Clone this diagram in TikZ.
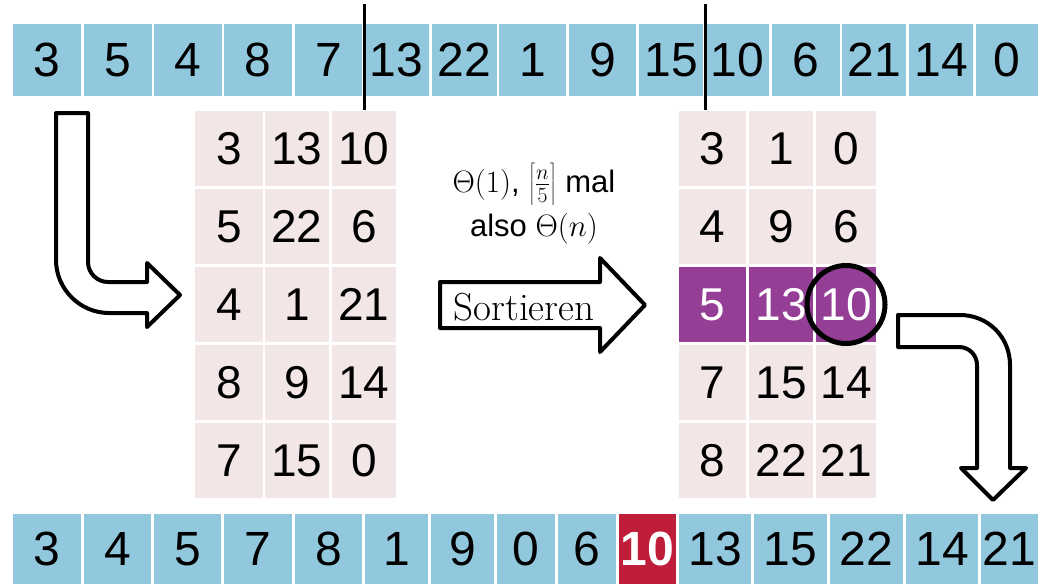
\RequirePackage{fix-cm}
\documentclass[tikz,border=0pt]{standalone}
\usepackage{fontspec}
\newfontfamily\arialf{Liberation Sans}
\definecolor{cellblue}{RGB}{146,200,222}
\definecolor{cellpink}{RGB}{243,230,231}
\definecolor{cellpurple}{RGB}{148,62,150}
\definecolor{cellred}{RGB}{191,30,58}
\begin{document}
\begin{tikzpicture}[x=1pt,y=-1pt,
  cellbase/.style={inner sep=0pt,outer sep=0pt,draw=none,text=black},
  bcell/.style={cellbase,fill=cellblue,font=\arialf\fontsize{48}{50}\selectfont},
  rcell/.style={cellbase,fill=cellred,text=white,font=\arialf\bfseries\fontsize{48}{50}\selectfont},
  gcell/.style={cellbase,fill=cellpink,font=\arialf\fontsize{46}{48}\selectfont},
  pcell/.style={cellbase,fill=cellpurple,text=white,font=\arialf\fontsize{46}{48}\selectfont},
  divider/.style={line width=3pt,draw=black},
  bigarrow/.style={draw=black,fill=white,line width=4pt,line join=round},
  lbl/.style={inner sep=0pt,anchor=base,font=\arialf\fontsize{31}{34}\selectfont}
]
\useasboundingbox (0,0) rectangle (1038,584);

% top row
\foreach \a/\b/\t [count=\i] in {13/81/3,84/152/5,154/222/4,224/292/8,295/362/7,364/429/13,432/497/22,499/566/1,569/636/9,639/703/15,705/769/10,772/840/6,842/906/21,909/973/14,976/1038/0}
  \node[bcell,minimum width={\b pt-\a pt},minimum height=72pt] (t\i) at ({(\a+\b)/2},60) {\t};

% bottom row
\foreach \a/\b/\t/\s [count=\i] in {13/81/3/bcell,84/151/4/bcell,154/221/5/bcell,224/292/7/bcell,295/362/8/bcell,365/428/1/bcell,431/494/9/bcell,497/555/0/bcell,558/616/6/bcell,619/676/10/rcell,679/751/13/bcell,754/827/15/bcell,830/903/22/bcell,906/978/14/bcell,981/1038/21/bcell}
  \node[\s,minimum width={\b pt-\a pt},minimum height=70pt] (b\i) at ({(\a+\b)/2},549) {\t};

% left grid
\foreach \y/\p/\q/\r [count=\j] in {148.5/3/13/10,226.5/5/22/6,304.5/4/1/21,382.5/8/9/14,460.5/7/15/0}{
  \node[gcell,minimum width=68pt,minimum height=75pt] (l\j a) at (229,\y) {\p};
  \node[gcell,minimum width=64pt,minimum height=75pt] (l\j b) at (297,\y) {\q};
  \node[gcell,minimum width=64pt,minimum height=75pt] (l\j c) at (364,\y) {\r};
}

% right grid
\foreach \y/\p/\q/\r/\s [count=\j] in {148.5/3/1/0/gcell,226.5/4/9/6/gcell,304.5/5/13/10/pcell,382.5/7/15/14/gcell,460.5/8/22/21/gcell}{
  \node[\s,minimum width=67pt,minimum height=75pt] (r\j a) at (712.5,\y) {\p};
  \node[\s,minimum width=64pt,minimum height=75pt] (r\j b) at (781,\y) {\q};
  \node[\s,minimum width=60pt,minimum height=75pt] (r\j c) at (846,\y) {\r};
}

% dividers
\coordinate (d1top) at (364,4);
\coordinate (d1bot) at (364,110);
\coordinate (d2top) at (705,4);
\coordinate (d2bot) at (705,110);
\draw[divider] (d1top) -- (d1bot);
\draw[divider] (d2top) -- (d2bot);

% circle around median
\node[draw=black,line width=5pt,circle,minimum size=78pt,inner sep=0pt] (med) at (r3c.center) {};

% left bent arrow
\draw[bigarrow] (56,113) -- (88,113) -- (88,262)
  .. controls (88,273) and (97,282) .. (108,282)
  -- (147,282) -- (147,263) -- (180,295) -- (147,327) -- (147,313) -- (109,313)
  .. controls (80,313) and (56,289) .. (56,260) -- cycle;

% sort arrow
\draw[bigarrow] (440,282) -- (600,282) -- (600,258) -- (645,305) -- (600,352) -- (600,328) -- (440,328) -- cycle;
\node[inner sep=0pt,anchor=base,font=\fontsize{39}{42}\selectfont] (sortlbl) at (524,320) {Sortieren};

% labels
\node[lbl] (cost1) at (534,192) {$\Theta(1)$, $\left\lceil\frac{n}{5}\rule[-14pt]{0pt}{44pt}\right\rceil$ mal};
\node[lbl] (cost2) at (534,236) {also $\Theta(n)$};

% right bent arrow
\draw[bigarrow] (898,315) -- (960,315)
  .. controls (988,315) and (1010,337) .. (1010,365)
  -- (1010,468) -- (1026,468) -- (993,500) -- (961,468) -- (977,468) -- (977,365)
  .. controls (977,355) and (969,347) .. (959,347)
  -- (898,347) -- cycle;
\end{tikzpicture}
\end{document}
